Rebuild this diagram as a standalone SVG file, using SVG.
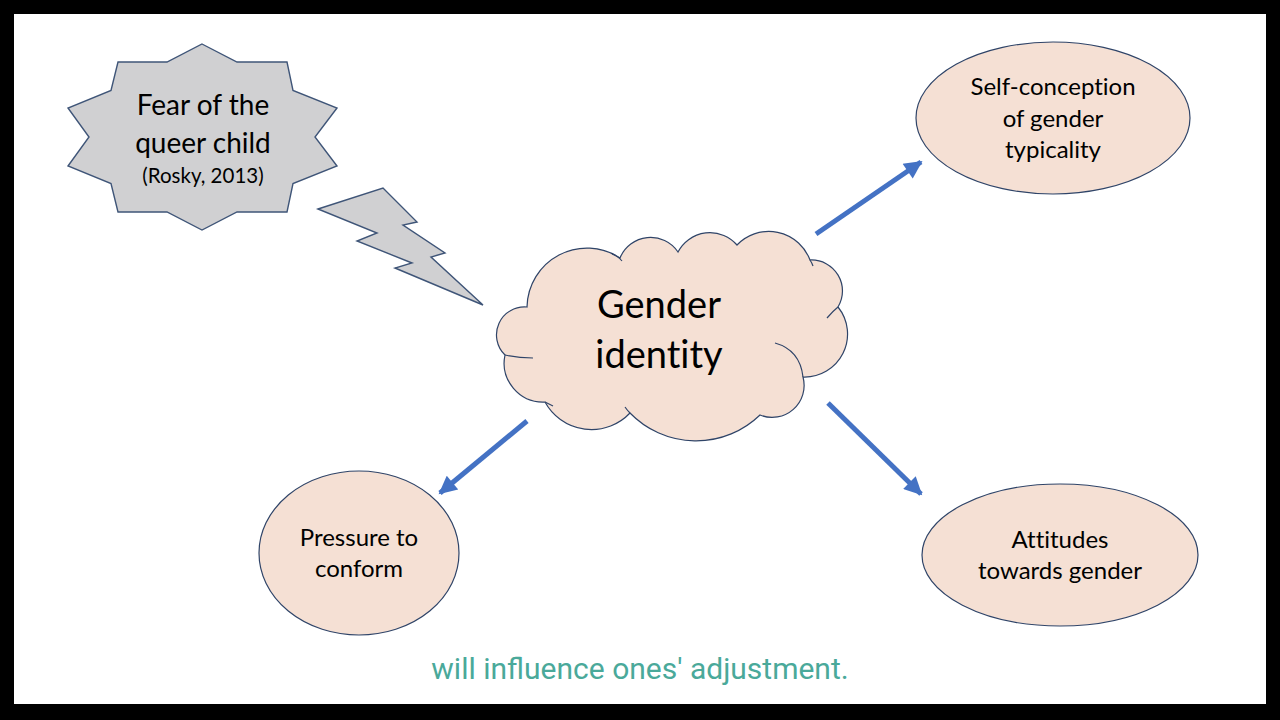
<svg xmlns="http://www.w3.org/2000/svg" width="1280" height="720" viewBox="0 0 1280 720">
<defs>
<style>
.node{fill:#f5e0d4;stroke:#2f4468;stroke-width:1.2}
.grey{fill:#d0d0d2;stroke:#3f5578;stroke-width:1.4;stroke-linejoin:miter}
.t{font-family:Lato,"Open Sans","DejaVu Sans",sans-serif;fill:#000;text-anchor:middle;font-variant-ligatures:none;font-feature-settings:"liga" 0}
.conn{stroke:#4472c4;stroke-width:5;fill:none;marker-end:url(#ah)}
.cap{font-family:Roboto,"Noto Sans",sans-serif;fill:#4aa99a;font-size:30px;text-anchor:middle}
</style>
<marker id="ah" viewBox="0 0 10 10" refX="9" refY="5" markerWidth="4" markerHeight="3.6" orient="auto" markerUnits="strokeWidth">
<path d="M0,0 L10,5 L0,10 Z" fill="#4472c4"/>
</marker>
</defs>
<rect x="0" y="0" width="1280" height="720" fill="#000"/>
<rect x="14" y="14" width="1252" height="690" fill="#fff"/>

<g id="fear">
<polygon class="grey" points="202,44 237,62 287,62 293,90.5 337,108 315,137 337,166 293,183.5 287,212 237,212 202,230 167,212 118,212 111,183.5 68,166 89,137 68,108 111,90.5 118,62 167,62"/>
<text class="t" x="203" y="115" font-size="28">Fear of the</text>
<text class="t" x="203" y="153" font-size="28">queer child</text>
<text class="t" x="203" y="183" font-size="20.5">(Rosky, 2013)</text>
</g>

<g id="bolt">
<polygon class="grey" points="318,209 383,188 417,222 403,225 445,253 431,257 483,305 395,268 412,263 357,241 377,233"/>
</g>

<g id="gender">
<path class="node" d="M527,307 A60,60 0 0 1 620,258 A33,33 0 0 1 678,252 A36,36 0 0 1 737,245 A44,44 0 0 1 810,260 A31,31 0 0 1 838,307 A43,43 0 0 1 803,377 A32,32 0 0 1 760,415 A92,92 0 0 1 630,413 A53,53 0 0 1 545,402 A39,39 0 0 1 505,355 A28,28 0 0 1 527,307 Z"/>
<g fill="none" stroke="#2f4468" stroke-width="1.2">
<path d="M838,307 Q833,311 827,318"/>
<path d="M775,343 Q800,350 803,377"/>
<path d="M505,355 Q518,358 533,358"/>
<path d="M612,254 Q618,256 622,261"/>
<path d="M545,402 Q549,404 553,406"/>
<path d="M630,413 Q627,410 625,407"/>
<path d="M810,260 Q812,263 813,266"/>
</g>
<text class="t" x="659" y="318" font-size="38">Gender</text>
<text class="t" x="659" y="368" font-size="38">identity</text>
</g>

<g id="selfconception">
<ellipse class="node" cx="1053" cy="118" rx="137" ry="76"/>
<text class="t" x="1053" y="95" font-size="24">Self-conception</text>
<text class="t" x="1053" y="127" font-size="24">of gender</text>
<text class="t" x="1053" y="158" font-size="24">typicality</text>
</g>

<g id="pressure">
<ellipse class="node" cx="359" cy="553" rx="100" ry="82"/>
<text class="t" x="359" y="546" font-size="24">Pressure to</text>
<text class="t" x="359" y="577" font-size="24">conform</text>
</g>

<g id="attitudes">
<ellipse class="node" cx="1060" cy="555" rx="138" ry="71"/>
<text class="t" x="1060" y="548" font-size="24">Attitudes</text>
<text class="t" x="1060" y="579" font-size="24">towards gender</text>
</g>

<g id="connectors">
<line class="conn" x1="816" y1="234" x2="921" y2="162"/>
<line class="conn" x1="527" y1="421" x2="440" y2="493"/>
<line class="conn" x1="828" y1="403" x2="921" y2="494"/>
</g>

<text class="cap" x="640" y="679">will influence ones' adjustment.</text>
</svg>
